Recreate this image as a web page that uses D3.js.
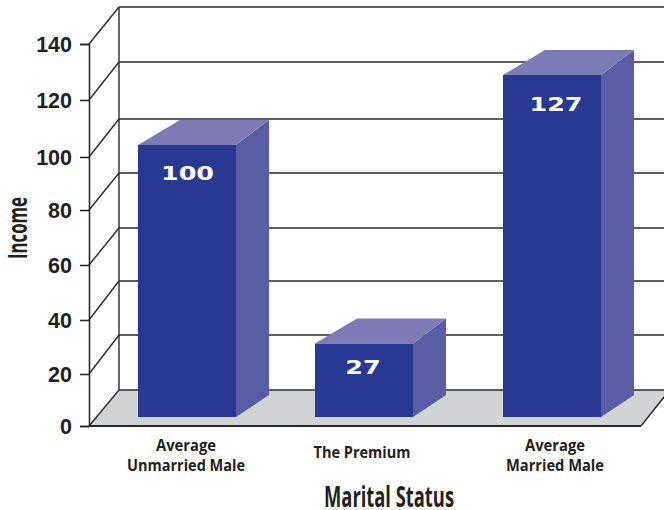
<!DOCTYPE html>
<html>
<head>
<meta charset="utf-8">
<script src="https://cdn.jsdelivr.net/npm/d3@7"></script>
<style>
    html, body { margin: 0; padding: 0; background: #fff; }
    svg { display: block; }
</style>
</head>
<body>
<svg id="drawing_region"></svg>
<script>
const categories = ['Unmarried', 'Premium', 'Married'];
const values = [100, 27, 127];
const valueText = ['100', '27', '127'];
const categoryLines = [['Average', 'Unmarried Male'], ['The Premium'], ['Average', 'Married Male']];
const yTicks = [0, 20, 40, 60, 80, 100, 120, 140];

const config = { width: 664, height: 510 };
const ink = '#2b2a2b';
const condensed = '"Open Sans", sans-serif';
// rendered widths of the condensed labels in the picture
const labelWidth = { 'Average': 60, 'Unmarried Male': 118, 'The Premium': 97, 'Married Male': 98 };

const svg = d3.select('#drawing_region')
    .attr('width', config.width)
    .attr('height', config.height);

// the picture's tick rows are not quite even, so the axis scale is piecewise
const yFront = d3.scaleLinear().domain(yTicks).range([426, 374, 320, 265, 210, 157, 100, 44]);
const yBack = d3.scaleLinear().domain(yTicks).range([390, 335, 281, 228, 173, 119, 62, 7]);
const yBar = d3.scaleLinear().domain([0, 100, 127]).range([417, 145, 75]);

const xLeft = d3.scaleOrdinal().domain(categories).range([138, 315, 503]);
const xLabel = d3.scaleOrdinal().domain(categories).range([186, 362, 555]);
const xValue = d3.scaleOrdinal().domain(categories).range([187.5, 363, 556]);
const valueDrop = d3.scaleOrdinal().domain(categories).range([35, 30, 36]);

const barW = 98, depthX = 33, depthTop = 25, depthBase = 22;
const frontX = 89, backX = 119, floorRight = 641;

const bars = categories.map((c, i) => ({
    key: c,
    value: values[i],
    text: valueText[i],
    lines: categoryLines[i]
}));

// floor
svg.append('polygon')
    .attr('points', [
        [frontX, yFront(0)], [backX, yBack(0)], [config.width, yBack(0)],
        [config.width, yBack(0) + 7], [floorRight, yFront(0)]
    ].join(' '))
    .attr('fill', '#d1d3d4');

// back wall grid
svg.selectAll('.grid')
    .data(yTicks)
    .enter()
    .append('line')
    .attr('class', 'grid')
    .attr('x1', backX)
    .attr('x2', config.width)
    .attr('y1', d => yBack(d))
    .attr('y2', d => yBack(d))
    .attr('stroke', ink)
    .attr('stroke-width', 1.6);

// side wall diagonals
svg.selectAll('.diag')
    .data(yTicks)
    .enter()
    .append('line')
    .attr('class', 'diag')
    .attr('x1', frontX)
    .attr('x2', backX)
    .attr('y1', d => yFront(d))
    .attr('y2', d => yBack(d))
    .attr('stroke', ink)
    .attr('stroke-width', 1.4);

svg.append('line')
    .attr('x1', backX).attr('x2', backX)
    .attr('y1', yBack(140)).attr('y2', yBack(0))
    .attr('stroke', ink).attr('stroke-width', 1.4);

// front axis
const yAxis = d3.axisLeft(yFront)
    .tickValues(yTicks)
    .tickSize(9)
    .tickPadding(8);

const axisGroup = svg.append('g')
    .attr('transform', `translate(${frontX}, 0)`)
    .call(yAxis);

axisGroup.select('.domain')
    .attr('stroke', ink)
    .attr('stroke-width', 1.6);

axisGroup.selectAll('.tick line')
    .attr('stroke', ink)
    .attr('stroke-width', 1.6);

axisGroup.selectAll('.tick text')
    .attr('fill', '#231f20')
    .attr('font-family', '"Liberation Sans", Arial, sans-serif')
    .attr('font-weight', 'bold')
    .attr('font-size', '21.5px')
    .attr('dy', '0.36em');

svg.append('line')
    .attr('x1', frontX).attr('x2', floorRight)
    .attr('y1', yFront(0)).attr('y2', yFront(0))
    .attr('stroke', ink).attr('stroke-width', 1.8);

svg.append('line')
    .attr('x1', floorRight).attr('x2', config.width)
    .attr('y1', yFront(0)).attr('y2', yBack(0) + 7)
    .attr('stroke', ink).attr('stroke-width', 1.4);

// bars
const bar = svg.selectAll('.bar')
    .data(bars)
    .enter()
    .append('g')
    .attr('class', 'bar');

bar.append('polygon')
    .attr('fill', '#5a5ca5')
    .attr('points', d => {
        const r = xLeft(d.key) + barW;
        return [[r, yBar(d.value)], [r + depthX, yBar(d.value) - depthTop], [r + depthX, yBar(0) - depthBase], [r, yBar(0)]].join(' ');
    });

bar.append('polygon')
    .attr('fill', '#7d7ab4')
    .attr('points', d => {
        const l = xLeft(d.key), top = yBar(d.value);
        return [[l, top], [l + barW, top], [l + barW + depthX, top - depthTop], [l + 42, top - depthTop]].join(' ');
    });

bar.append('rect')
    .attr('x', d => xLeft(d.key))
    .attr('y', d => yBar(d.value))
    .attr('width', barW)
    .attr('height', d => yBar(0) - yBar(d.value))
    .attr('fill', '#283991');

bar.append('text')
    .attr('x', d => xValue(d.key))
    .attr('y', d => yBar(d.value) + valueDrop(d.key))
    .attr('text-anchor', 'middle')
    .attr('fill', '#fff')
    .attr('font-family', '"DejaVu Sans", sans-serif')
    .attr('font-weight', 'bold')
    .attr('font-size', '19px')
    .attr('textLength', d => d.text.length * 17.7)
    .attr('lengthAdjust', 'spacingAndGlyphs')
    .text(d => d.text);

// category labels, one text per line so each can be fitted to its width
bars.forEach(d => {
    d.lines.forEach((line, i) => {
        svg.append('text')
            .attr('class', 'cat')
            .attr('x', xLabel(d.key))
            .attr('y', d.lines.length === 1 ? 458 : 451 + i * 20)
            .attr('text-anchor', 'middle')
            .attr('fill', '#231f20')
            .attr('font-family', condensed)
            .attr('font-weight', 'bold')
            .attr('font-size', '16px')
            .attr('textLength', labelWidth[line])
            .attr('lengthAdjust', 'spacingAndGlyphs')
            .text(line);
    });
});

// axis titles
svg.append('text')
    .attr('transform', 'translate(27, 228) rotate(-90)')
    .attr('text-anchor', 'middle')
    .attr('fill', '#231f20')
    .attr('font-family', condensed)
    .attr('font-weight', 'bold')
    .attr('font-size', '26px')
    .attr('textLength', 62)
    .attr('lengthAdjust', 'spacingAndGlyphs')
    .text('Income');

svg.append('text')
    .attr('x', 389)
    .attr('y', 507)
    .attr('text-anchor', 'middle')
    .attr('fill', '#231f20')
    .attr('font-family', condensed)
    .attr('font-weight', 'bold')
    .attr('font-size', '29px')
    .attr('textLength', 130)
    .attr('lengthAdjust', 'spacingAndGlyphs')
    .text('Marital Status');
</script>
</body>
</html>
